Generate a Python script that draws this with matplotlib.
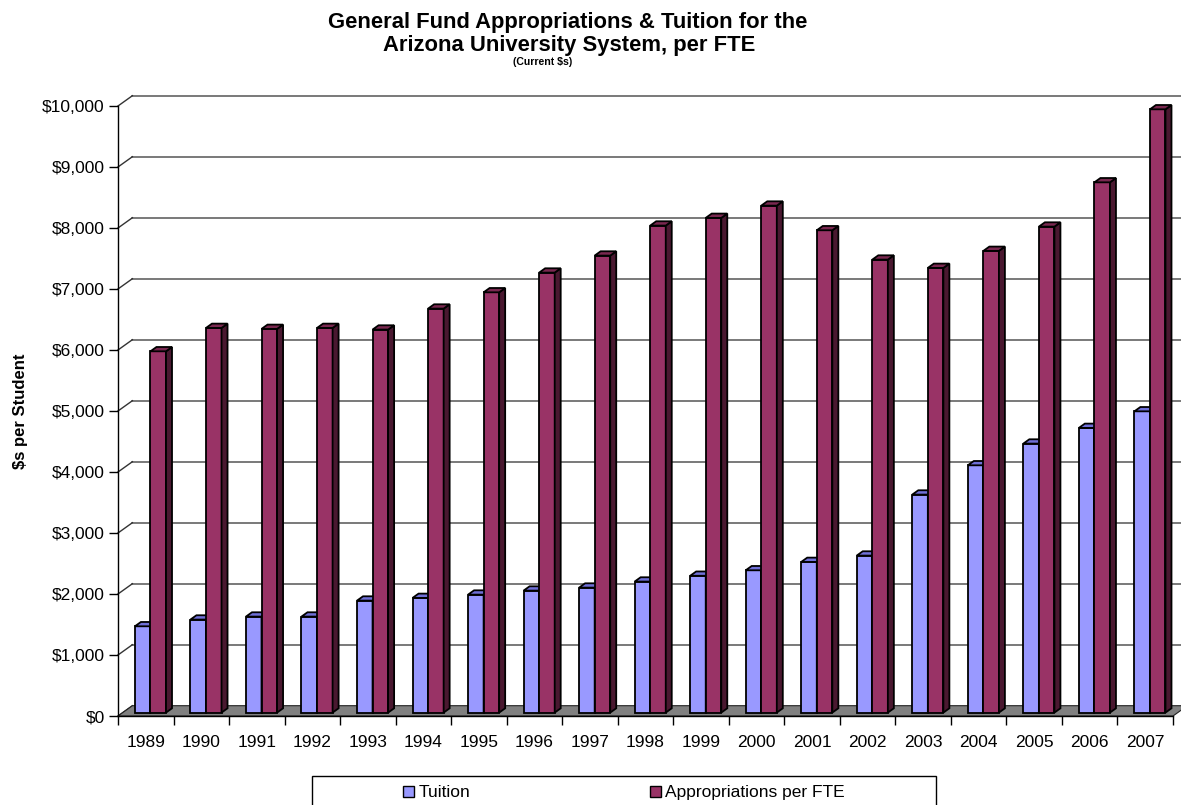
import matplotlib
matplotlib.use("Agg")
import matplotlib.pyplot as plt
from matplotlib.patches import Polygon, Rectangle
from matplotlib.transforms import offset_copy
from matplotlib.ticker import FuncFormatter, MultipleLocator

plt.rcParams['font.family'] = ['Liberation Sans', 'DejaVu Sans']

# ---- data ----
years = [str(y) for y in range(1989, 2008)]
tuition = [1415, 1525, 1574, 1574, 1836, 1880, 1934, 2000, 2049, 2148,
           2243, 2333, 2470, 2574, 3574, 4054, 4410, 4667, 4939]
approp = [5923, 6306, 6290, 6306, 6279, 6623, 6890, 7213, 7492, 7984,
          8110, 8311, 7907, 7426, 7290, 7569, 7967, 8693, 9890]
series_names = ["Tuition", "Appropriations per FTE"]
front_colors = ["#9999FF", "#993366"]
top_colors = ["#7070D8", "#7A2850"]
side_colors = ["#5050A8", "#4A1830"]
y_max = 10000
y_step = 1000

W, H = 1181, 805
fig = plt.figure(figsize=(W / 100, H / 100), dpi=100)

ax_l, ax_r, ax_t, ax_b = 118, 1173, 106, 716
ax = fig.add_axes([ax_l / W, (H - ax_b) / H, (ax_r - ax_l) / W, (ax_b - ax_t) / H])
n = len(years)
ax.set_xlim(-0.5, n - 0.5)
ax.set_ylim(0, y_max)

cx = (ax_r - ax_l) / n          # px per category
cy = (ax_b - ax_t) / y_max      # px per dollar

wall_dx, wall_dy = 14.4, 10.3    # px offset of the back wall
bar_dx, bar_dy = 4.7, 3.4        # px offset of the bar front plane
dep_dx, dep_dy = 6.0, 4.3        # px depth of each bar

bar_tr = offset_copy(ax.transData, fig=fig, x=bar_dx, y=bar_dy, units='dots')
wall_tr = offset_copy(ax.transData, fig=fig, x=wall_dx, y=wall_dy, units='dots')

# floor
fx, fy = wall_dx / cx, wall_dy / cy
floor = Polygon([(-0.5, 0), (n - 0.5, 0), (n - 0.5 + fx, fy), (-0.5 + fx, fy)],
                closed=True, facecolor="#808080", edgecolor="#222222", lw=0.8,
                zorder=1.5, clip_on=False)
ax.add_patch(floor)

# back-wall gridlines and left-wall diagonals
for k in range(1, y_max // y_step + 1):
    yv = k * y_step
    ax.plot([-0.5, n - 0.5 + 1], [yv, yv], color="#555555", lw=1.1,
            transform=wall_tr, clip_on=False, zorder=1)
for k in range(0, y_max // y_step + 1):
    yv = k * y_step
    ax.plot([-0.5, -0.5 + fx], [yv, yv + fy], color="#333333", lw=1.0,
            clip_on=False, zorder=1.2)

# bars
bw = 0.28
ddx, ddy = dep_dx / cx, dep_dy / cy
x_idx = list(range(n))
for s, vals in enumerate([tuition, approp]):
    xs = [i - bw + s * bw for i in x_idx]
    ax.bar(xs, vals, width=bw, align='edge', color=front_colors[s],
           edgecolor="black", linewidth=1.3, transform=bar_tr, clip_on=False,
           zorder=3)
    for x0, v in zip(xs, vals):
        x1 = x0 + bw
        side = Polygon([(x1, 0), (x1 + ddx, ddy), (x1 + ddx, v + ddy), (x1, v)],
                       closed=True, facecolor=side_colors[s], edgecolor="black",
                       lw=1.3, transform=bar_tr, clip_on=False, zorder=3)
        top = Polygon([(x0, v), (x1, v), (x1 + ddx, v + ddy), (x0 + ddx, v + ddy)],
                      closed=True, facecolor=top_colors[s], edgecolor="black",
                      lw=1.3, transform=bar_tr, clip_on=False, zorder=3)
        ax.add_patch(side)
        ax.add_patch(top)
ax.set_xlim(-0.5, n - 0.5)
ax.set_ylim(0, y_max)

# axes styling
for sp in ["top", "right"]:
    ax.spines[sp].set_visible(False)
ax.spines["left"].set_color("black")
ax.spines["bottom"].set_color("black")
ax.spines["left"].set_linewidth(1.0)
ax.spines["bottom"].set_linewidth(1.0)
ax.spines["left"].set_zorder(4)
ax.spines["bottom"].set_zorder(4)

ax.yaxis.set_major_locator(MultipleLocator(y_step))
ax.yaxis.set_major_formatter(FuncFormatter(lambda v, p: f"${v:,.0f}"))
ax.tick_params(axis='y', which='major', length=6.5, width=1.0, pad=3,
               labelsize=12.5, colors="black", direction='out')

ax.set_xticks(x_idx)
ax.set_xticklabels(years)
ax.set_xticks([i - 0.5 for i in range(n + 1)], minor=True)
ax.tick_params(axis='x', which='major', length=0, pad=13.5, labelsize=12.5)
ax.tick_params(axis='x', which='minor', length=6.3, width=1.0, direction='out',
               color="black")

fig.text(21 / W, (H - 411) / H, "$s per Student", rotation=90, ha='center',
         va='center', fontsize=12, fontweight='bold')

# titles
fig.text(568 / W, (H - 28) / H, "General Fund Appropriations & Tuition for the",
         ha='center', va='baseline', fontsize=15.8, fontweight='bold')
fig.text(569 / W, (H - 51) / H, "Arizona University System, per FTE",
         ha='center', va='baseline', fontsize=15.8, fontweight='bold')
fig.text(543 / W, (H - 65) / H, "(Current $s)", ha='center', va='baseline',
         fontsize=7.6, fontweight='bold')

# legend (manual, Excel-like box)
fig.add_artist(Rectangle((312 / W, -0.05), (936 - 312) / W, (H - 776) / H + 0.05,
                         transform=fig.transFigure, fill=False,
                         edgecolor="black", lw=1.0))
sw_x = [403, 650]
tx_x = [419, 665]
for s in range(2):
    fig.add_artist(Rectangle((sw_x[s] / W, (H - 797) / H), 11 / W, 11 / H,
                             transform=fig.transFigure,
                             facecolor=front_colors[s], edgecolor="black", lw=1.0))
    fig.text(tx_x[s] / W, (H - 792) / H, series_names[s], ha='left',
             va='center', fontsize=12.5)

fig.savefig("out.png", dpi=100)
